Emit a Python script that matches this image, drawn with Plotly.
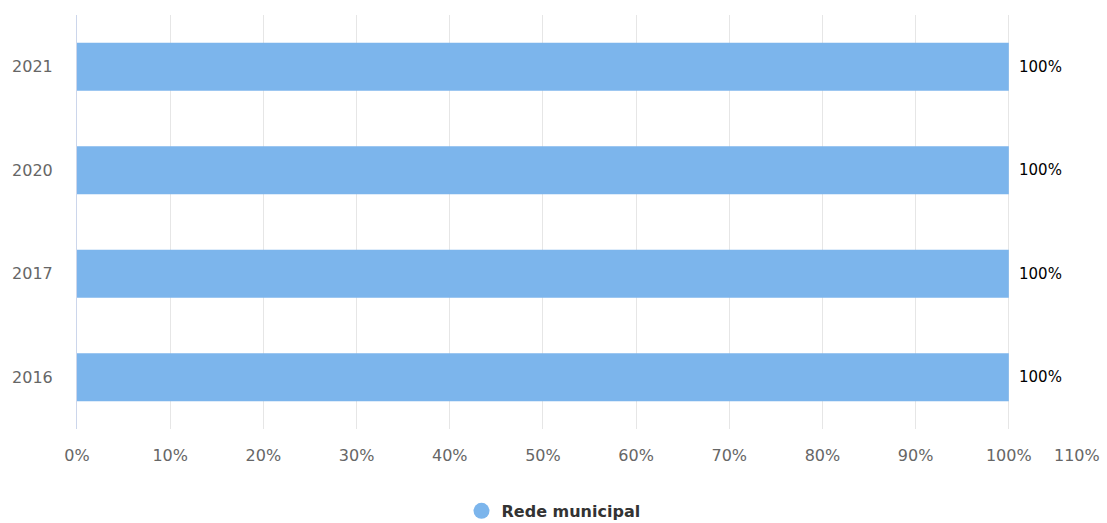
import plotly.graph_objects as go

years = ["2021", "2020", "2017", "2016"]
values = [100, 100, 100, 100]
series_name = "Rede municipal"
tick_vals = [0, 10, 20, 30, 40, 50, 60, 70, 80, 90, 100, 110]
tick_text = ["0%", "10%", "20%", "30%", "40%", "50%", "60%", "70%", "80%", "90%", "100%", ""]
last_tick_label = "110%"
x_range = [0, 110]

color = "#7cb5ec"
font_family = "DejaVu Sans"

n = len(years)
idx = list(range(n))

fig = go.Figure()
fig.add_trace(go.Bar(
    x=values, y=idx, orientation="h", marker=dict(color=color, line=dict(width=0)),
    showlegend=False, hoverinfo="skip", width=0.465
))
# legend-only proxy (point placed outside the x range so it is clipped)
fig.add_trace(go.Scatter(
    x=[-1000], y=[0], mode="markers", name=series_name,
    marker=dict(symbol="circle", size=16, color=color), hoverinfo="skip", cliponaxis=True
))

annotations = []
for i, v in zip(idx, values):
    annotations.append(dict(
        x=v, y=i, xref="x", yref="y", text=f"{v}%", showarrow=False,
        xanchor="left", yanchor="middle", xshift=8,
        font=dict(family=font_family, size=15, color="#000000")
    ))
annotations.append(dict(
    x=x_range[1], y=0, xref="x", yref="paper", text=last_tick_label, showarrow=False,
    xanchor="right", yanchor="top", yshift=-15,
    font=dict(family=font_family, size=16, color="#666666")
))

fig.update_layout(
    width=1107, height=523,
    margin=dict(l=77, r=5, t=15, b=94),
    paper_bgcolor="white", plot_bgcolor="white",
    font=dict(family=font_family, size=16, color="#666666"),
    xaxis=dict(
        range=x_range, tickvals=tick_vals, ticktext=tick_text, automargin=False,
        showgrid=True, gridcolor="#e6e6e6", gridwidth=1, zeroline=False,
        showline=False, ticks="", ticklabelstandoff=15,
        tickfont=dict(family=font_family, size=16, color="#666666"),
    ),
    yaxis=dict(
        range=[n - 0.5, -0.5], tickvals=idx, ticktext=years,
        showgrid=False, zeroline=False, showline=True, linecolor="#ccd6eb", linewidth=1,
        ticks="", ticklabelstandoff=20, automargin=False,
        tickfont=dict(family=font_family, size=16, color="#666666"),
    ),
    legend=dict(
        orientation="h", xref="container", yref="container",
        x=0.5, xanchor="center", y=0.023, yanchor="middle",
        font=dict(family=font_family, size=16, color="#333333", weight="bold"),
        itemsizing="trace",
    ),
    annotations=annotations,
)

fig.write_html("out.html", config={"displayModeBar": False},
               post_script="document.body.style.margin='0';")
